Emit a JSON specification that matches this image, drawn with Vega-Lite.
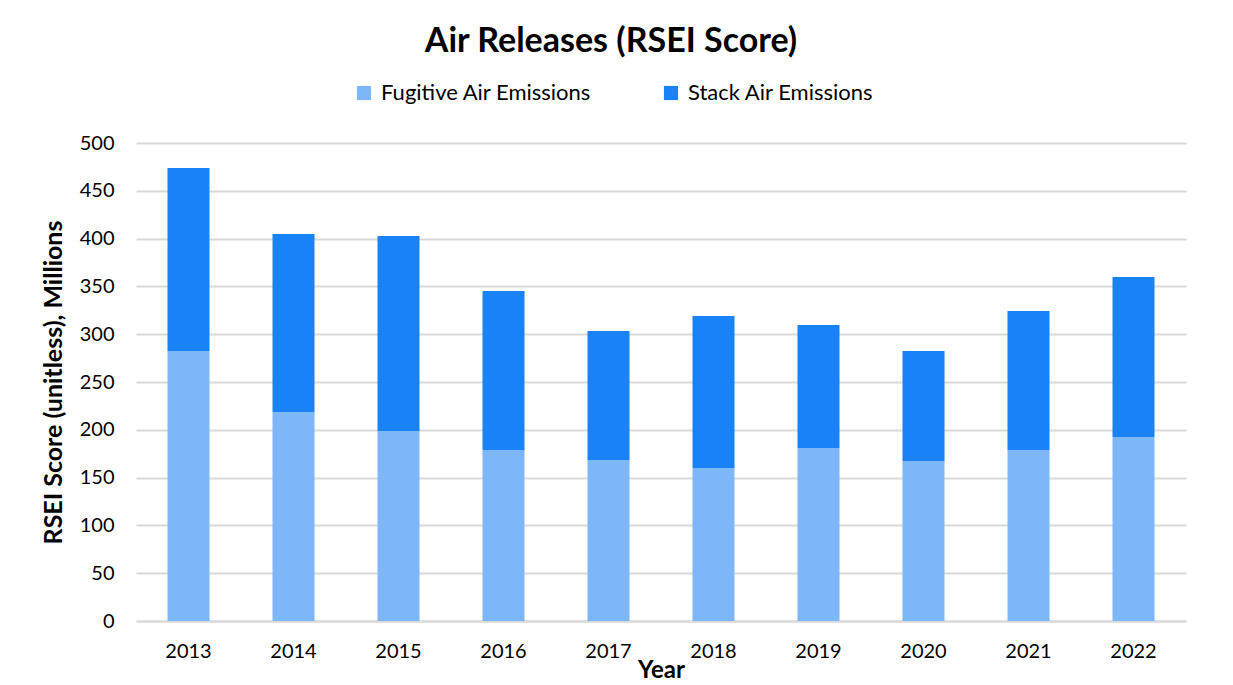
{
  "$schema": "https://vega.github.io/schema/vega-lite/v6.json",
  "width": 1050,
  "height": 478,
  "autosize": {"type": "none"},
  "padding": {"left": 136, "top": 143, "right": 47, "bottom": 64},
  "background": "white",
  "config": {
    "font": "Lato",
    "view": {"stroke": null}
  },
  "title": {
    "text": "Air Releases (RSEI Score)",
    "font": "Lato",
    "fontSize": 34,
    "fontWeight": "bold",
    "color": "#000000",
    "anchor": "middle",
    "dx": -50,
    "offset": 23
  },
  "data": {
    "values": [
      {"year": "2013", "type": "Fugitive Air Emissions", "value": 282.4},
      {"year": "2013", "type": "Stack Air Emissions", "value": 191.4},
      {"year": "2014", "type": "Fugitive Air Emissions", "value": 218.6},
      {"year": "2014", "type": "Stack Air Emissions", "value": 186.2},
      {"year": "2015", "type": "Fugitive Air Emissions", "value": 198.7},
      {"year": "2015", "type": "Stack Air Emissions", "value": 204.0},
      {"year": "2016", "type": "Fugitive Air Emissions", "value": 178.9},
      {"year": "2016", "type": "Stack Air Emissions", "value": 166.3},
      {"year": "2017", "type": "Fugitive Air Emissions", "value": 168.4},
      {"year": "2017", "type": "Stack Air Emissions", "value": 134.9},
      {"year": "2018", "type": "Fugitive Air Emissions", "value": 160.0},
      {"year": "2018", "type": "Stack Air Emissions", "value": 159.0},
      {"year": "2019", "type": "Fugitive Air Emissions", "value": 181.0},
      {"year": "2019", "type": "Stack Air Emissions", "value": 128.6},
      {"year": "2020", "type": "Fugitive Air Emissions", "value": 167.4},
      {"year": "2020", "type": "Stack Air Emissions", "value": 115.0},
      {"year": "2021", "type": "Fugitive Air Emissions", "value": 178.9},
      {"year": "2021", "type": "Stack Air Emissions", "value": 145.4},
      {"year": "2022", "type": "Fugitive Air Emissions", "value": 192.5},
      {"year": "2022", "type": "Stack Air Emissions", "value": 167.3}
    ]
  },
  "mark": {"type": "bar"},
  "encoding": {
    "x": {
      "field": "year",
      "type": "ordinal",
      "scale": {"paddingInner": 0.6, "paddingOuter": 0.3},
      "axis": {
        "title": "Year",
        "titleFontSize": 24,
        "titleFontWeight": "bold",
        "titleColor": "#000000",
        "titleBaseline": "alphabetic",
        "titleY": 56,
        "labelAngle": 0,
        "labelFontSize": 20,
        "labelColor": "#000000",
        "labelPadding": 20,
        "ticks": false,
        "domainColor": "#d9d9d9",
        "domainWidth": 2
      }
    },
    "y": {
      "field": "value",
      "type": "quantitative",
      "stack": "zero",
      "scale": {"domain": [0, 500], "nice": false},
      "axis": {
        "title": "RSEI Score (unitless), Millions",
        "titleFontSize": 25,
        "titleFontWeight": "bold",
        "titleColor": "#000000",
        "titlePadding": 13,
        "values": [0, 50, 100, 150, 200, 250, 300, 350, 400, 450, 500],
        "labelFontSize": 20,
        "labelColor": "#000000",
        "labelPadding": 22,
        "ticks": false,
        "domain": false,
        "gridColor": "#d9d9d9",
        "gridWidth": 2
      }
    },
    "color": {
      "field": "type",
      "type": "nominal",
      "scale": {
        "domain": ["Fugitive Air Emissions", "Stack Air Emissions"],
        "range": ["#7db7fa", "#1a82f7"]
      },
      "legend": {
        "title": null,
        "orient": "none",
        "direction": "horizontal",
        "legendX": 217,
        "legendY": -61,
        "symbolType": "square",
        "symbolSize": 200,
        "symbolStrokeWidth": 0,
        "labelFontSize": 22,
        "labelLimit": 400,
        "labelColor": "#000000",
        "labelOffset": 6,
        "columnPadding": 68
      }
    },
    "order": {"field": "type", "sort": "ascending"}
  }
}
